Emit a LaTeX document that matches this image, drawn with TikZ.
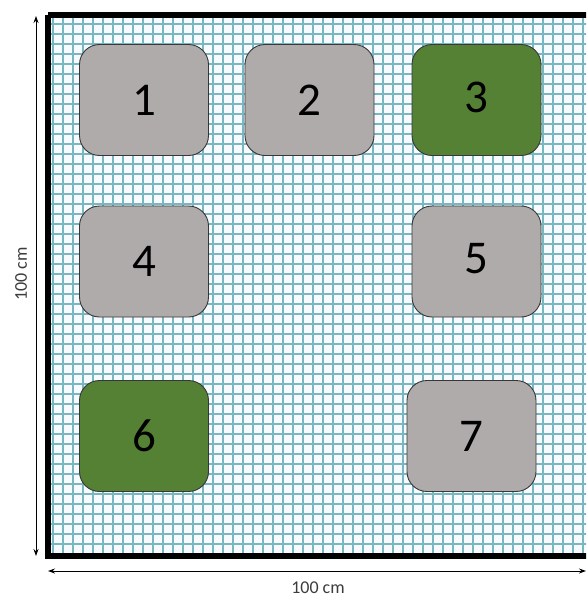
\documentclass[tikz,border=0pt]{standalone}
\usepackage{fontspec}
\setmainfont{Carlito}
\usetikzlibrary{positioning,arrows.meta}
\definecolor{gridTeal}{RGB}{120,182,192}
\definecolor{paperBg}{RGB}{247,251,255}
\definecolor{potGray}{RGB}{176,171,171}
\definecolor{potGreen}{RGB}{84,129,52}
\definecolor{edgeDark}{RGB}{55,55,55}
\definecolor{dimText}{RGB}{60,60,60}

\begin{document}
\begin{tikzpicture}[
    x=1pt, y=-1pt,
    pot/.style={draw=edgeDark, line width=0.9pt, rounded corners=20pt, minimum width=129pt, minimum height=111pt, inner sep=0pt, font=\fontsize{47}{47}\selectfont},
    gray pot/.style={pot, fill=potGray},
    green pot/.style={pot, fill=potGreen},
    gridline/.style={gridTeal, line width=1.1pt},
    dimarr/.style={{Stealth[length=7pt,width=5pt]}-{Stealth[length=7pt,width=5pt]}, line width=0.9pt},
    dimlabel/.style={font=\fontsize{18}{18}\selectfont, text=dimText},
]
\useasboundingbox (0,0) rectangle (586,599);
\clip (0,0) rectangle (586,599);

% Corners of the square
\coordinate (tl) at (48,15);
\coordinate (bl) at (48,556);
\coordinate (br) at (610,556);

% Paper and grid
\fill[paperBg] (tl) rectangle (br);
\foreach \gx in {0,...,53}
  \draw[gridline] (53+10*\gx,15) -- (53+10*\gx,556);
\foreach \gy in {0,...,52}
  \draw[gridline] (48,24+10*\gy) -- (610,24+10*\gy);
\draw[line width=6pt] (tl) -- (bl) -- (br) (tl) -- (610,15);

% Top row
\node[gray pot] (p1) at (144,100) {1};
\node[gray pot] (p2) at (309.5,100) {2};
\node[green pot] (p3) at (476.5,100) {\raisebox{5pt}{3}};

% Middle row
\node[gray pot] (p4) at (144,261.5) {\raisebox{-3pt}{4}};
\node[gray pot] (p5) at (476.5,261.5) {\raisebox{6pt}{5}};

% Bottom row
\node[green pot] (p6) at (144,436) {6};
\node[gray pot] (p7) at (471.5,436) {7};

% Dimensions
\coordinate (vtop) at (36,16);
\coordinate (vbot) at (36,556);
\coordinate (hleft) at (48,571);
\coordinate (hright) at (586,571);
\draw[dimarr] (vtop) -- (vbot);
\draw[dimarr] (hleft) -- (hright);
\node[dimlabel, rotate=90] (hlab) at (21,274) {100 cm};
\node[dimlabel] (wlab) at (318,588) {100 cm};
\end{tikzpicture}
\end{document}
